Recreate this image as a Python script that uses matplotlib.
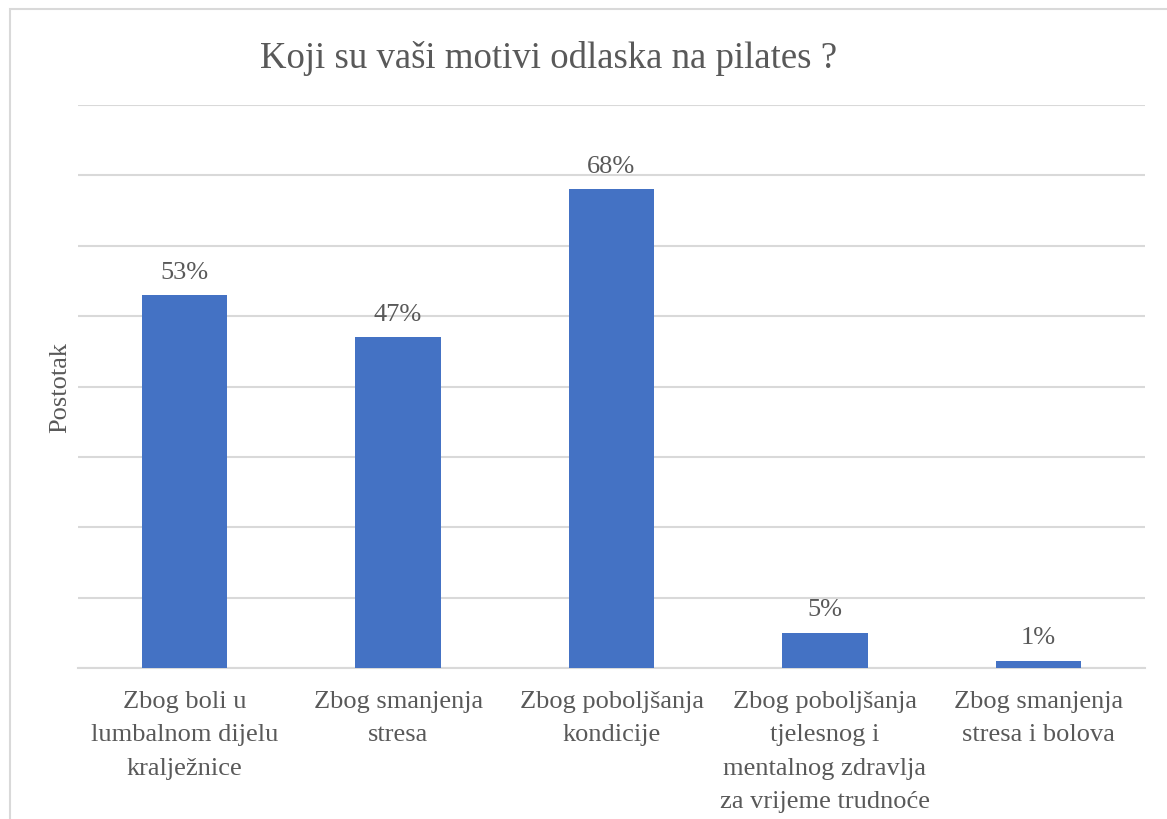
import matplotlib.pyplot as plt
from matplotlib.patches import Rectangle

# Odgovori na anketu (postotak ispitanika)
kategorije = [
    "Zbog boli u\nlumbalnom dijelu\nkralježnice",
    "Zbog smanjenja\nstresa",
    "Zbog poboljšanja\nkondicije",
    "Zbog poboljšanja\ntjelesnog i\nmentalnog zdravlja\nza vrijeme trudnoće",
    "Zbog smanjenja\nstresa i bolova",
]
postotci = [53, 47, 68, 5, 1]
oznake = ["53%", "47%", "68%", "5%", "1%"]

plava = "#4472C4"
siva_tekst = "#595959"
siva_mreza = "#D9D9D9"

plt.rcParams["font.family"] = ["Liberation Serif", "DejaVu Serif"]

fig = plt.figure(figsize=(11.67, 8.20), dpi=100)
fig.patch.set_facecolor("white")

# Okvir grafikona
fig.patches.append(Rectangle((10 / 1167, -0.1), 1.2, 1 - 10 / 820 + 0.1,
                             transform=fig.transFigure, fill=False,
                             edgecolor=siva_mreza, linewidth=1.5))

ax = fig.add_axes([78 / 1167, 1 - 669 / 820, (1145 - 78) / 1167, (669 - 106) / 820])

x = range(len(postotci))
ax.bar(x, postotci, width=0.4, color=plava, zorder=3)

for i, (v, t) in enumerate(zip(postotci, oznake)):
    ax.annotate(t, (i, v), xytext=(0, 9), textcoords="offset points",
                ha="center", va="bottom", fontsize=19, color=siva_tekst)

ax.set_ylim(0, 80)
ax.set_xlim(-0.5, len(postotci) - 0.5)
ax.set_yticks(range(0, 81, 10))
ax.set_yticklabels([])
ax.tick_params(axis="y", length=0)
ax.grid(axis="y", color=siva_mreza, linewidth=1.5, zorder=0)

ax.set_xticks(list(x))
ax.set_xticklabels(kategorije, fontsize=19, color=siva_tekst, linespacing=1.66)
ax.tick_params(axis="x", length=0, pad=16)

for s in ["top", "right", "left"]:
    ax.spines[s].set_visible(False)
ax.spines["bottom"].set_color(siva_mreza)
ax.spines["bottom"].set_linewidth(1.5)

fig.text(549 / 1167, 1 - 59 / 820, "Koji su vaši motivi odlaska na pilates ?",
         ha="center", va="center", fontsize=26.5, color=siva_tekst)
fig.text(60 / 1167, 1 - 388 / 820, "Postotak", rotation=90,
         ha="center", va="center", fontsize=19, color=siva_tekst)

fig.savefig("out.png", dpi=100, facecolor="white")
